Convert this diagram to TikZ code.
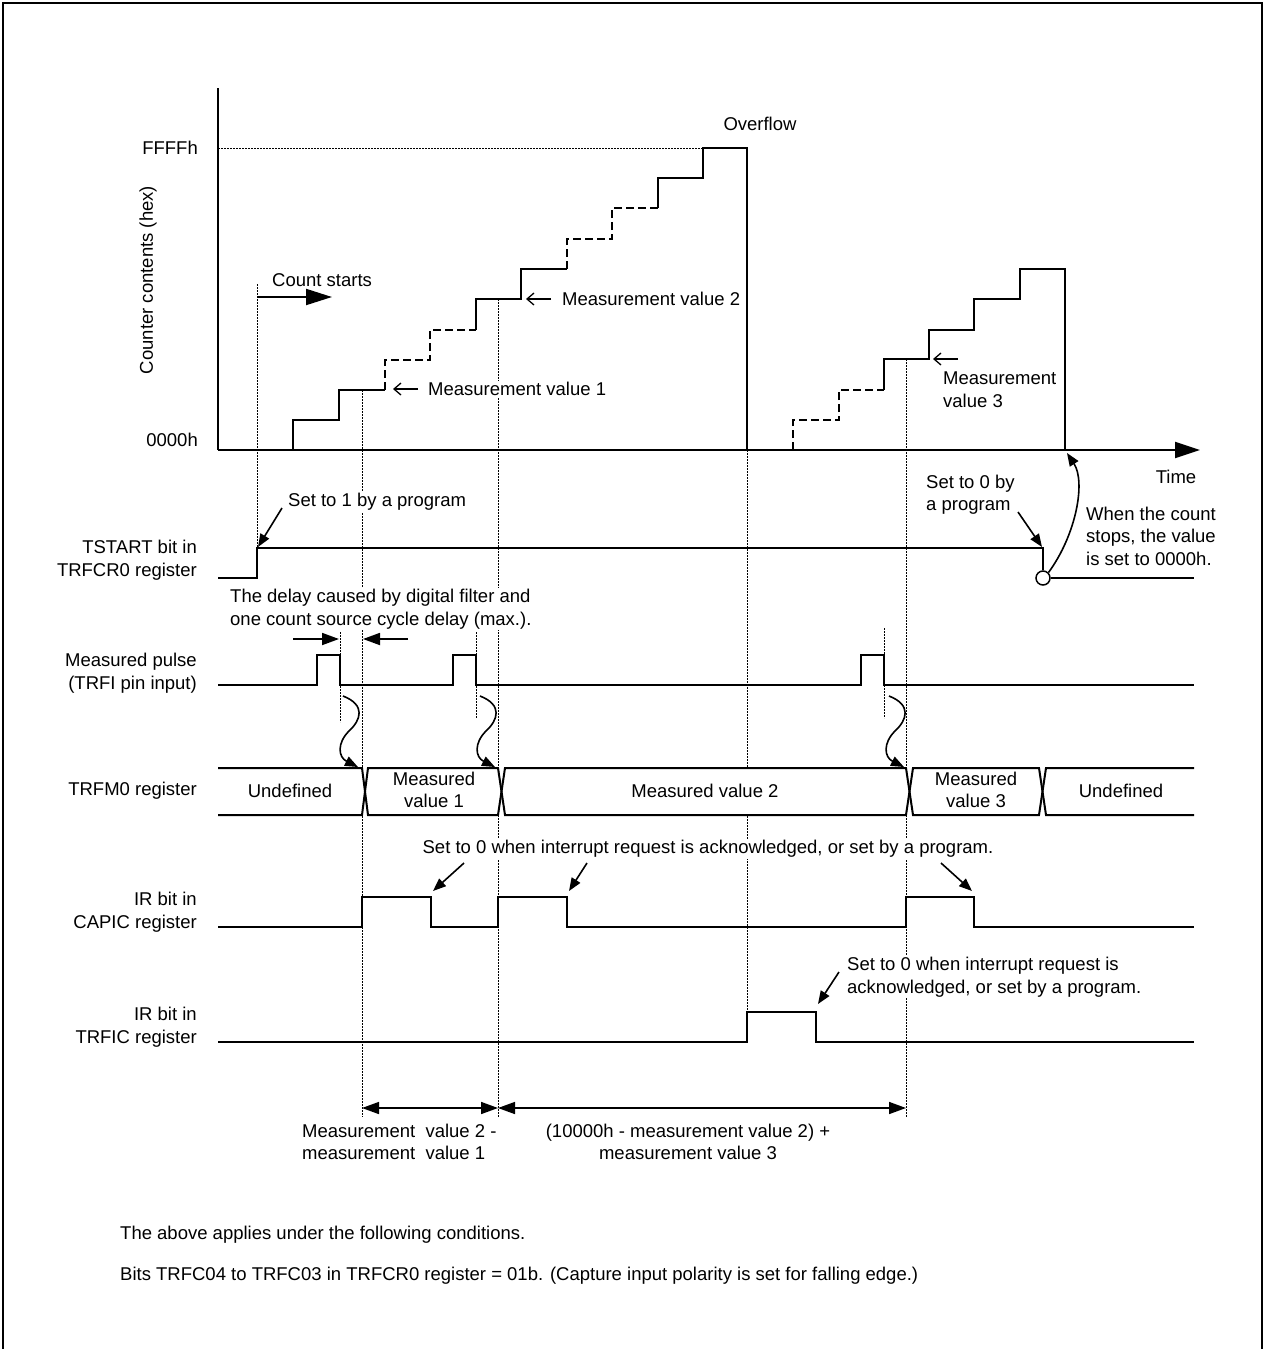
\documentclass[tikz,border=0pt]{standalone}
\usepackage{fontspec}
\setmainfont{Liberation Sans}
\usetikzlibrary{arrows.meta}
\begin{document}
\begin{tikzpicture}[x=1pt,y=-1pt,
  every node/.style={font=\fontsize{18.5}{22.5}\selectfont, inner sep=0pt},
  lbl/.style={fill=white, inner sep=1pt},
  sig/.style={line width=2pt, line join=miter},
  dsig/.style={line width=2.5pt, dash pattern=on 8pt off 4pt},
  dotl/.style={line width=1pt, dash pattern=on 2pt off 1pt},
  arr/.style={line width=1.6pt, -{Triangle[length=13pt,width=10pt]}},
  darr/.style={line width=1.6pt, {Triangle[length=17pt,width=12pt]}-{Triangle[length=17pt,width=12pt]}},
  oarr/.style={line width=1.3pt, -{Straight Barb[length=7pt,width=12pt]}},
  sarr/.style={line width=1.8pt, -{Triangle[length=17pt,width=12pt]}},
]
\useasboundingbox (0,0) rectangle (1265,1349);
% frame
\draw[line width=2pt] (3,1349) -- (3,3) -- (1262,3) -- (1262,1349);

% dotted guide lines
\draw[dotl] (218,148) -- (703,148);
\draw[dotl] (257,284) -- (257,548);
\draw[dotl] (362,390) -- (362,1117);
\draw[dotl] (498,299) -- (498,1117);
\draw[dotl] (747,450) -- (747,1012);
\draw[dotl] (906,359) -- (906,1117);
\draw[dotl] (340,632) -- (340,722);
\draw[dotl] (476,632) -- (476,718);
\draw[dotl] (884,628) -- (884,718);

% axes
\draw[sig] (218,88) -- (218,450);
\draw[line width=2pt, -{Triangle[length=25pt,width=16pt]}] (218,450) -- (1200,450);

% staircase 1
\draw[sig] (293,450) -- (293,420) -- (339,420) -- (339,390) -- (385,390);
\draw[dsig] (385,390) -- (385,360) -- (430,360) -- (430,330) -- (476,330);
\draw[sig] (476,330) -- (476,299) -- (521,299) -- (521,269) -- (567,269);
\draw[dsig] (567,269) -- (567,239) -- (612,239) -- (612,208) -- (658,208);
\draw[sig] (658,208) -- (658,178) -- (703,178) -- (703,148) -- (747,148) -- (747,450);

% staircase 2
\draw[dsig] (793,450) -- (793,420) -- (839,420) -- (839,390) -- (884,390);
\draw[sig] (884,390) -- (884,359) -- (929,359) -- (929,330) -- (974,330) -- (974,299) -- (1020,299) -- (1020,269) -- (1065,269) -- (1065,450);

% axis labels
\node[anchor=east] (lffff) at (198,148) {FFFFh};
\node[anchor=east] (lzero) at (198,440) {0000h};
\node[rotate=90] (lcc) at (148,280) {Counter contents (hex)};
\node (lovf) at (760,124) {Overflow};
\node (ltime) at (1176,477) {Time};

% count starts
\node[anchor=west] (lcs) at (272,280) {Count starts};
\coordinate (cs1) at (257,297);
\coordinate (cs2) at (332,297);
\draw[line width=2pt, -{Triangle[length=26pt,width=16pt]}] (cs1) -- (cs2);

% measurement values on the counter
\node[lbl, anchor=west] (lmv1) at (427,389) {Measurement value 1};
\coordinate (mv1a) at (418,389); \coordinate (mv1b) at (393,389);
\draw[oarr] (mv1a) -- (mv1b);
\node[lbl, anchor=west] (lmv2) at (561,299) {Measurement value 2};
\coordinate (mv2a) at (551,299); \coordinate (mv2b) at (526,299);
\draw[oarr] (mv2a) -- (mv2b);
\node[lbl, anchor=west, align=left] (lmv3) at (942,389.5) {Measurement\\value 3};
\coordinate (mv3a) at (958,359); \coordinate (mv3b) at (933,359);
\draw[oarr] (mv3a) -- (mv3b);

% TSTART
\node[anchor=east, align=right] (ltst) at (197,560) {TSTART bit in\\TRFCR0 register};
\node[circle, draw, line width=1.5pt, minimum size=14pt, inner sep=0pt] (stopc) at (1043,578) {};
\draw[sig] (218,578) -- (257,578) -- (257,548) -- (1043,548) -- (stopc.north);
\draw[sig] (stopc.east) -- (1194,578);
\node[lbl, anchor=west] (lset1) at (287,502) {Set to 1 by a program};
\coordinate (s1a) at (282,508); \coordinate (s1b) at (258,547);
\draw[arr] (s1a) -- (s1b);
\node[lbl, anchor=west, align=left] (lset0) at (925,494.5) {Set to 0 by\\a program};
\coordinate (s0a) at (1018,512); \coordinate (s0b) at (1042,547);
\draw[arr] (s0a) -- (s0b);
\node[lbl, anchor=west, align=left] (lstop) at (1085,536) {When the count\\stops, the value\\is set to 0000h.};
\coordinate (stoptip) at (1067,453);
\draw[arr] (stopc.north east) .. controls (1076,535) and (1086,482) .. (stoptip);

% delay text and arrows
\node[lbl, anchor=west, align=left] (ldelay) at (229,609) {The delay caused by digital filter and\\one count source cycle delay (max.).};
\coordinate (d1a) at (293,639); \coordinate (d1b) at (339,639);
\coordinate (d2a) at (408,639); \coordinate (d2b) at (363,639);
\draw[sarr] (d1a) -- (d1b);
\draw[sarr] (d2a) -- (d2b);

% measured pulse
\node[anchor=east, align=right] (lpulse) at (197,673) {Measured pulse\\(TRFI pin input)};
\draw[sig] (218,685) -- (317,685) -- (317,655) -- (340,655) -- (340,685) -- (453,685) -- (453,655) -- (476,655) -- (476,685) -- (861,685) -- (861,655) -- (884,655) -- (884,685) -- (1194,685);

% S-curved arrows
\foreach \dx/\nm in {0/a,137/b,546/c}{
  \coordinate (sc\nm1) at (343+\dx,696);
  \coordinate (sc\nm2) at (358+\dx,767);
  \draw[arr] (sc\nm1) .. controls (366+\dx,705) and (361+\dx,720) .. (349+\dx,731) .. controls (337+\dx,743) and (338+\dx,757) .. (sc\nm2);
}

% TRFM0 register bus
\node[anchor=east] (ltrfm) at (197,791) {TRFM0 register};
\fill[white] (218,769) rectangle (1194,814);
\draw[sig] (218,768) -- (362,768) -- (368,815) -- (498,815) -- (505,768) -- (906,768) -- (913,815) -- (1039,815) -- (1046,768) -- (1194,768);
\draw[sig] (218,815) -- (362,815) -- (368,768) -- (498,768) -- (505,815) -- (906,815) -- (913,768) -- (1039,768) -- (1046,815) -- (1194,815);
\node (bu1) at (290,791) {Undefined};
\node[align=center] (bm1) at (434,790) {Measured\\value 1};
\node (bm2) at (705,791) {Measured value 2};
\node[align=center] (bm3) at (976,790) {Measured\\value 3};
\node (bu2) at (1121,791) {Undefined};

% CAPIC
\node[anchor=east, align=right] (lcap) at (197,912) {IR bit in\\CAPIC register};
\draw[sig] (218,927) -- (362,927) -- (362,897) -- (431,897) -- (431,927) -- (498,927) -- (498,897) -- (567,897) -- (567,927) -- (906,927) -- (906,897) -- (974,897) -- (974,927) -- (1194,927);
\node[lbl] (lack1) at (708,849) {Set to 0 when interrupt request is acknowledged, or set by a program.};
\coordinate (c1a) at (464,863); \coordinate (c1b) at (433,891);
\coordinate (c2a) at (587,863); \coordinate (c2b) at (569,891);
\coordinate (c3a) at (941,863); \coordinate (c3b) at (972,891);
\draw[arr] (c1a) -- (c1b);
\draw[arr] (c2a) -- (c2b);
\draw[arr] (c3a) -- (c3b);

% TRFIC
\node[anchor=east, align=right] (ltrfic) at (197,1027) {IR bit in\\TRFIC register};
\draw[sig] (218,1042) -- (747,1042) -- (747,1012) -- (816,1012) -- (816,1042) -- (1194,1042);
\node[lbl, anchor=west, align=left] (lack2) at (846,977) {Set to 0 when interrupt request is\\acknowledged, or set by a program.};
\coordinate (t1a) at (839,972); \coordinate (t1b) at (818,1004);
\draw[arr] (t1a) -- (t1b);

% measurement intervals
\coordinate (m1) at (362,1108); \coordinate (m2) at (498,1108); \coordinate (m3) at (906,1108);
\draw[darr] (m1) -- (m2);
\draw[darr] (m2) -- (m3);
\node[anchor=west, align=left] (lint1) at (302,1142) {Measurement\ \ value 2 -\\measurement\ \ value 1};
\node[align=center] (lint2) at (688,1142) {(10000h - measurement value 2) +\\measurement value 3};

% notes
\node[anchor=west] (note1) at (120,1235) {The above applies under the following conditions.};
\node[anchor=west] (note2) at (120,1276) {Bits TRFC04 to TRFC03 in TRFCR0 register = 01b. (Capture input polarity is set for falling edge.)};
\end{tikzpicture}
\end{document}
